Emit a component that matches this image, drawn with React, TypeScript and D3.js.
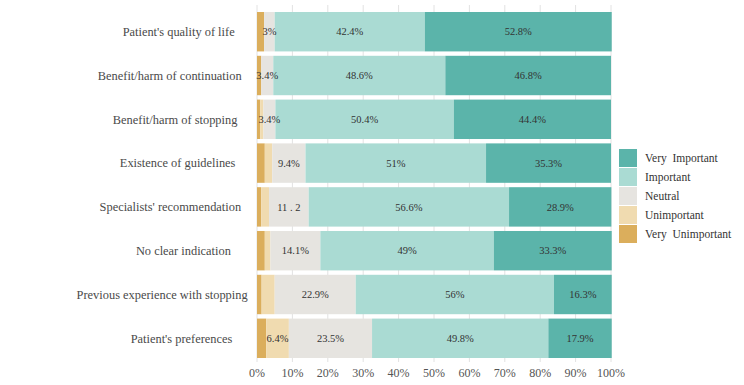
import React from 'react';
import * as d3 from 'd3';

const categories = [
  "Patient's quality of life",
  'Benefit/harm of continuation',
  'Benefit/harm of stopping',
  'Existence of guidelines',
  "Specialists' recommendation",
  'No clear indication',
  'Previous experience with stopping',
  "Patient's preferences",
];

const veryUnimportant = [2.0, 1.2, 0.9, 2.2, 1.2, 2.2, 1.3, 2.6];
const unimportant = [0, 0, 0.9, 2.1, 2.2, 1.6, 3.7, 6.4];
const neutral = [3, 3.4, 3.4, 9.4, 11.2, 14.1, 22.9, 23.5];
const important = [42.4, 48.6, 50.4, 51, 56.6, 49, 56, 49.8];
const veryImportant = [52.8, 46.8, 44.4, 35.3, 28.9, 33.3, 16.3, 17.9];

const seriesKeys = ['Very Unimportant', 'Unimportant', 'Neutral', 'Important', 'Very Important'];
const seriesValues = [veryUnimportant, unimportant, neutral, important, veryImportant];
const seriesColors = ['#dbae5c', '#f0dbb0', '#e6e4e0', '#aadbd3', '#5bb4aa'];
const legendLabels = ['Very  Important', 'Important', 'Neutral', 'Unimportant', 'Very  Unimportant'];

// printed labels, '' = none
const segmentLabels = [
  ['', '', '', '', '', '', '', ''],
  ['', '', '', '', '', '', '', '6.4%'],
  ['3%', '3.4%', '3.4%', '9.4%', '11 . 2', '14.1%', '22.9%', '23.5%'],
  ['42.4%', '48.6%', '50.4%', '51%', '56.6%', '49%', '56%', '49.8%'],
  ['52.8%', '46.8%', '44.4%', '35.3%', '28.9%', '33.3%', '16.3%', '17.9%'],
];

const xTicks = [0, 10, 20, 30, 40, 50, 60, 70, 80, 90, 100];

const W = 744;
const H = 385;
const font = '"Liberation Serif", "Times New Roman", serif';
const catSize = 12.4;

// measure text so the long labels sit a bit further left, like the original
const ctx = typeof document !== 'undefined' ? document.createElement('canvas').getContext('2d') : null;
function textWidth(s: string) {
  if (!ctx) return s.length * 5;
  ctx.font = `${catSize}px "Liberation Serif", serif`;
  return ctx.measureText(s).width;
}

export default function App() {
  const x = d3.scaleLinear().domain([0, 100]).range([257, 611]);
  const y = d3.scaleBand().domain(categories).range([12, 358]).paddingInner(0.1).paddingOuter(0);

  const table = categories.map((c, i) => {
    const row: any = { category: c };
    seriesKeys.forEach((k, j) => (row[k] = seriesValues[j][i]));
    return row;
  });
  const stacked = d3.stack().keys(seriesKeys)(table);

  return (
    <svg width={W} height={H} style={{ position: 'absolute', left: 0, top: 0, background: 'white' }}>
      {xTicks.map(t => (
        <line key={t} x1={x(t)} x2={x(t)} y1={5} y2={362} stroke="#e2e2e2" strokeWidth={1} />
      ))}
      {stacked.map((s, j) => (
        <g key={s.key} fill={seriesColors[j]}>
          {s.map((d, i) => (
            <rect
              key={i}
              x={x(d[0])}
              y={y(categories[i])}
              width={Math.max(0, x(d[1]) - x(d[0]))}
              height={y.bandwidth()}
            />
          ))}
        </g>
      ))}
      {stacked.map((s, j) => (
        <g key={'l' + s.key} fontFamily={font} fontSize={10.5} fill="#333" textAnchor="middle">
          {s.map((d, i) =>
            segmentLabels[j][i] ? (
              <text
                key={i}
                x={(x(d[0]) + x(d[1])) / 2}
                y={(y(categories[i]) as number) + y.bandwidth() / 2}
                dy="0.35em"
              >
                {segmentLabels[j][i]}
              </text>
            ) : null
          )}
        </g>
      ))}
      <g fontFamily={font} fontSize={catSize} fill="#4a4a4a" textAnchor="middle">
        {categories.map(c => (
          <text key={c} x={210 - 0.28 * textWidth(c)} y={(y(c) as number) + y.bandwidth() / 2} dy="0.35em">
            {c}
          </text>
        ))}
      </g>
      <g fontFamily={font} fontSize={12} fill="#555" textAnchor="middle">
        {xTicks.map(t => (
          <text key={t} x={x(t)} y={377}>
            {t}%
          </text>
        ))}
      </g>
      <g fontFamily={font} fontSize={11.5} fill="#333">
        {legendLabels.map((l, i) => (
          <g key={l} transform={`translate(619,${149 + i * 19})`}>
            <rect width={18} height={18} fill={seriesColors[4 - i]} />
            <text x={26} y={9} dy="0.35em" style={{ whiteSpace: 'pre' }}>
              {l}
            </text>
          </g>
        ))}
      </g>
    </svg>
  );
}
